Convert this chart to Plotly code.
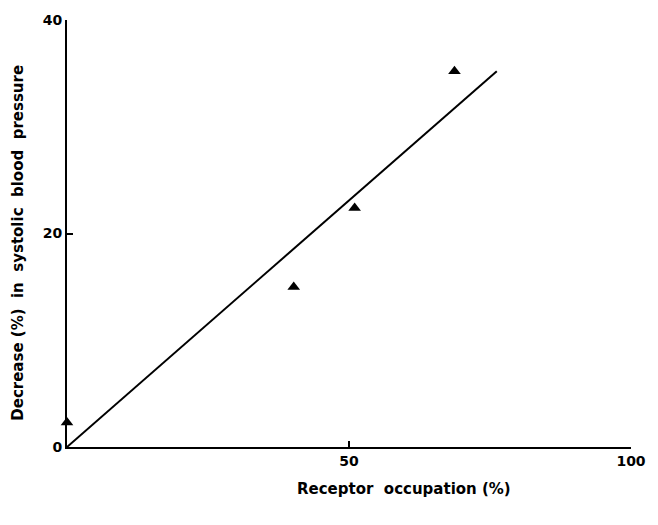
import plotly.graph_objects as go

# Data
occupation = [0, 40.2, 51.0, 68.7]          # Receptor occupation (%)
decrease = [2.3, 15.0, 22.4, 35.2]          # Decrease (%) in systolic blood pressure
fit_x = [0, 76.2]
fit_y = [0, 35.2]

x_ticks = [50, 100]
x_ticklabels = ["50", "100"]
y_ticks = [0, 20, 40]
y_ticklabels = ["0", "20", "40"]

FONT = "DejaVu Sans"

fig = go.Figure()
fig.add_trace(go.Scatter(x=fit_x, y=fit_y, mode="lines",
                         line=dict(color="black", width=2), showlegend=False,
                         cliponaxis=False))
fig.add_trace(go.Scatter(x=occupation, y=decrease, mode="markers",
                         marker=dict(symbol="triangle-up", size=11, color="black"),
                         showlegend=False, cliponaxis=False))

L, R, T, B = 67, 17, 14, 78
PW = 658 - L - R
PH = 525 - T - B

fig.update_layout(
    width=658, height=525,
    margin=dict(l=L, r=R, t=T, b=B),
    paper_bgcolor="white", plot_bgcolor="white",
    font=dict(family=FONT, color="black"),
    xaxis=dict(range=[0, 100], tickvals=x_ticks, ticktext=x_ticklabels,
               ticks="inside", ticklen=6, tickwidth=2, tickcolor="black",
               showline=True, linecolor="black", linewidth=2,
               showgrid=False, zeroline=False,
               tickfont=dict(size=14, family=FONT, weight="bold")),
    yaxis=dict(range=[0, 40], tickvals=y_ticks, ticktext=y_ticklabels,
               ticks="inside", ticklen=6, tickwidth=2, tickcolor="black",
               showline=True, linecolor="black", linewidth=2,
               showgrid=False, zeroline=False,
               tickfont=dict(size=14, family=FONT, weight="bold")),
    annotations=[
        dict(text="Receptor\u00a0\u00a0occupation (%)", xref="paper", yref="paper",
             x=(410 - L) / PW, y=-43 / PH, xanchor="center", yanchor="middle",
             showarrow=False, font=dict(size=15, family=FONT, weight="bold")),
        dict(text="Decrease (%)\u00a0\u00a0in\u00a0\u00a0systolic\u00a0\u00a0blood\u00a0\u00a0pressure",
             xref="paper", yref="paper",
             x=(17 - L) / PW, y=(447 - 240) / PH, xanchor="center", yanchor="middle",
             textangle=-90, showarrow=False,
             font=dict(size=15, family=FONT, weight="bold")),
    ],
)

fig.write_html("out.html")
